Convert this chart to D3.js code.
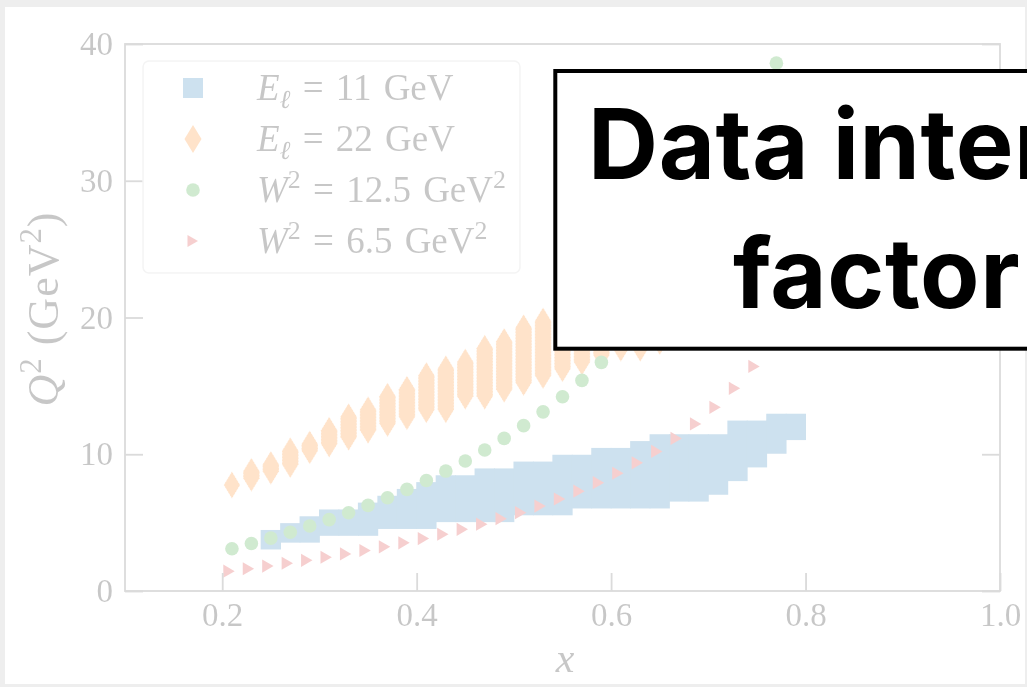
<!DOCTYPE html>
<html>
<head>
<meta charset="utf-8">
<script src="https://cdn.jsdelivr.net/npm/d3@7"></script>
<style>
  html, body { margin: 0; padding: 0; background: #eeeeee; overflow: hidden; }
  svg { display: block; }
  text { white-space: pre; }
</style>
</head>
<body>
<svg id="chart" width="1027" height="687"></svg>
<script>
// ---- Kinematic coverage data ----
// E_l = 11 GeV: Bjorken-x columns and the lowest / highest Q^2 bin centre in each column
const xE11 = [0.25, 0.27, 0.29, 0.31, 0.33, 0.35, 0.37, 0.39, 0.41, 0.43, 0.45, 0.47, 0.49, 0.51,
              0.53, 0.55, 0.57, 0.59, 0.61, 0.63, 0.65, 0.67, 0.69, 0.71, 0.73, 0.75, 0.77, 0.79];
const q2E11Low = [3.75, 4.25, 4.25, 4.75, 4.75, 4.75, 5.25, 5.25, 5.25, 5.75, 5.75, 5.75, 5.75, 6.25,
                  6.25, 6.25, 6.75, 6.75, 6.75, 6.75, 6.75, 7.25, 7.25, 7.75, 8.75, 9.75, 10.75, 11.75];
const q2E11High = [3.75, 4.25, 4.75, 5.25, 5.25, 5.75, 6.25, 6.75, 7.25, 7.75, 7.75, 8.25, 8.25, 8.75,
                   8.75, 9.25, 9.25, 9.75, 9.75, 10.25, 10.75, 10.75, 10.75, 10.75, 11.75, 11.75, 12.25, 12.25];

// E_l = 22 GeV
const xE22 = [0.21, 0.23, 0.25, 0.27, 0.29, 0.31, 0.33, 0.35, 0.37, 0.39, 0.41, 0.43, 0.45,
              0.47, 0.49, 0.51, 0.53, 0.55, 0.57, 0.59, 0.61, 0.63, 0.65, 0.67, 0.69];
const q2E22Low = [7.75, 8.25, 8.75, 9.25, 10.25, 10.75, 11.25, 11.75, 12.25, 12.75, 13.25, 13.25, 14.25,
                  14.25, 14.75, 15.25, 15.75, 16.25, 16.75, 17.25, 17.75, 17.75, 18.25, 18.75, 19.25];
const q2E22High = [7.75, 8.75, 9.25, 10.25, 10.75, 11.75, 12.75, 13.25, 14.25, 14.75, 15.75, 16.25, 16.75,
                   17.75, 18.25, 19.25, 19.75, 20.25, 20.75, 21.25, 21.75, 22.25, 22.75, 23.25, 23.75];

// W^2 = 12.5 GeV^2 line
const xW125 = [0.21, 0.23, 0.25, 0.27, 0.29, 0.31, 0.33, 0.35, 0.37, 0.39, 0.41, 0.43, 0.45, 0.47, 0.49,
               0.51, 0.53, 0.55, 0.57, 0.59, 0.61, 0.63, 0.65, 0.67, 0.69, 0.71, 0.73, 0.75, 0.77];
const q2W125 = [3.09, 3.47, 3.87, 4.30, 4.75, 5.22, 5.72, 6.26, 6.82, 7.43, 8.08, 8.77, 9.51, 10.31, 11.16,
                12.09, 13.10, 14.20, 15.40, 16.72, 18.18, 19.79, 21.58, 23.59, 25.86, 28.45, 31.42, 34.86, 38.6];

// W^2 = 6.5 GeV^2 line
const xW65 = [0.205, 0.225, 0.245, 0.265, 0.285, 0.305, 0.325, 0.345, 0.365, 0.385, 0.405, 0.425, 0.445, 0.465,
              0.485, 0.505, 0.525, 0.545, 0.565, 0.585, 0.605, 0.625, 0.645, 0.665, 0.685, 0.705, 0.725, 0.745];
const q2W65 = [1.45, 1.63, 1.82, 2.03, 2.24, 2.47, 2.71, 2.96, 3.23, 3.52, 3.83, 4.15, 4.51, 4.89,
               5.29, 5.73, 6.21, 6.73, 7.30, 7.92, 8.61, 9.37, 10.21, 11.16, 12.22, 13.43, 14.82, 16.42];

const xTicks = [0.2, 0.4, 0.6, 0.8, 1.0];
const yTicks = [0, 10, 20, 30, 40];
const seriesColors = ["#1f77b4", "#ff7f0e", "#2ca02c", "#d62728"];
const legendSymbols = ["square", "diamond", "circle", "triangle"];
// label pieces: [text, style]  (i = italic, sub = subscript, sup = superscript)
const legendLabels = [
  [["E", "i"], ["ℓ", "sub"], [" = 11 GeV", ""]],
  [["E", "i"], ["ℓ", "sub"], [" = 22 GeV", ""]],
  [["W", "i"], ["2", "sup"], [" = 12.5 GeV", ""], ["2", "sup"]],
  [["W", "i"], ["2", "sup"], [" = 6.5 GeV", ""], ["2", "sup"]]
];
const yTitle = [["Q", "i"], ["2", "sup"], [" (GeV", ""], ["2", "sup"], [")", ""]];
const bannerLines = ["Data interpolated", "factor of 2"];

// ---- Layout ----
const svg = d3.select("#chart");
const serif = "'Liberation Serif', 'Times New Roman', serif";

svg.append("rect").attr("x", 5).attr("y", 7).attr("width", 1020).attr("height", 677).attr("fill", "#ffffff");

const x = d3.scaleLinear().domain([0.1, 1.0]).range([125, 1000]);
const y = d3.scaleLinear().domain([0, 40]).range([591, 44]);

// the whole figure is drawn washed out
const fig = svg.append("g").attr("opacity", 0.22);

// Write a label made of styled pieces into a <text>, shifting the baseline for sub/superscripts
function richText(sel, pieces, fs) {
  let shift = 0; // current baseline offset
  pieces.forEach(([t, s]) => {
    const ts = sel.append("tspan").text(t);
    let target = 0;
    if (s === "i") ts.attr("font-style", "italic");
    if (s === "sub") { ts.attr("font-style", "italic").attr("font-size", fs * 0.7); target = fs * 0.22; }
    if (s === "sup") { ts.attr("font-size", fs * 0.7); target = -fs * 0.38; }
    if (target !== shift) ts.attr("dy", target - shift);
    shift = target;
  });
}

// ---- Data marks ----
const sq = 19.5;           // square marker side (px)
const dh = 13.5, dw = 8.2; // thin diamond half height / half width (px)

// E = 11 GeV: each x column is a stack of square markers from its low to its high bin
fig.append("g").selectAll("rect")
  .data(xE11.map((d, i) => ({ x: d, lo: q2E11Low[i], hi: q2E11High[i] })))
  .join("rect")
  .attr("x", d => x(d.x) - sq / 2 - 0.4)
  .attr("y", d => y(d.hi) - sq / 2)
  .attr("width", sq + 0.8)
  .attr("height", d => y(d.lo) - y(d.hi) + sq)
  .attr("fill", seriesColors[0]);

// E = 22 GeV: stacks of thin diamonds
fig.append("g").selectAll("path")
  .data(xE22.map((d, i) => ({ x: d, lo: q2E22Low[i], hi: q2E22High[i] })))
  .join("path")
  .attr("d", d => {
    const cx = x(d.x), yt = y(d.hi), yb = y(d.lo);
    return `M${cx},${yt - dh} L${cx + dw},${yt} L${cx + dw},${yb} L${cx},${yb + dh} L${cx - dw},${yb} L${cx - dw},${yt} Z`;
  })
  .attr("fill", seriesColors[1])
  .attr("stroke", "#ffffff").attr("stroke-width", 0.6).attr("stroke-dasharray", "1.5 1.5");

// W^2 = 12.5 GeV^2: circles
fig.append("g").selectAll("circle")
  .data(xW125.map((d, i) => ({ x: d, q: q2W125[i] })))
  .join("circle")
  .attr("cx", d => x(d.x)).attr("cy", d => y(d.q)).attr("r", 6.8)
  .attr("fill", seriesColors[2]);

// W^2 = 6.5 GeV^2: right-pointing triangles
const tri = r => `M${r},0 L${-r / 2},${-r * 0.866} L${-r / 2},${r * 0.866} Z`;
fig.append("g").selectAll("path")
  .data(xW65.map((d, i) => ({ x: d, q: q2W65[i] })))
  .join("path")
  .attr("d", tri(7.6))
  .attr("transform", d => `translate(${x(d.x)},${y(d.q)})`)
  .attr("fill", seriesColors[3]);

// ---- Axes ----
const axisStyle = g => {
  g.select(".domain").remove();
  g.selectAll(".tick line").attr("stroke", "#5a5a5a").attr("stroke-width", 1.8);
  g.selectAll(".tick text").attr("fill", "#000").attr("font-family", serif).attr("font-size", 33);
};

fig.append("g").attr("transform", "translate(0,591)")
  .call(d3.axisBottom(x).tickValues(xTicks).tickSize(-18).tickPadding(12).tickFormat(d3.format(".1f")))
  .call(axisStyle);
fig.append("g").attr("transform", "translate(125,0)")
  .call(d3.axisLeft(y).tickValues(yTicks).tickSize(-18).tickPadding(12).tickFormat(d3.format("d")))
  .call(axisStyle);
fig.append("g").attr("transform", "translate(1000,0)")
  .call(d3.axisRight(y).tickValues(yTicks).tickSize(-18).tickFormat(""))
  .call(axisStyle);

// frame
fig.append("rect")
  .attr("x", x.range()[0]).attr("y", y.range()[1])
  .attr("width", x.range()[1] - x.range()[0]).attr("height", y.range()[0] - y.range()[1])
  .attr("fill", "none").attr("stroke", "#5a5a5a").attr("stroke-width", 1.8);

// axis titles
fig.append("text")
  .attr("x", 565).attr("y", 672).attr("text-anchor", "middle")
  .attr("font-family", serif).attr("font-size", 42).attr("font-style", "italic")
  .text("x");

const yl = fig.append("text")
  .attr("transform", "translate(58,309) rotate(-90)")
  .attr("text-anchor", "middle")
  .attr("font-family", serif).attr("font-size", 44).attr("letter-spacing", 1);
richText(yl, yTitle, 44);

// ---- Legend ----
const lg = fig.append("g");
lg.append("rect")
  .attr("x", 143).attr("y", 61).attr("width", 377).attr("height", 212).attr("rx", 6)
  .attr("fill", "#ffffff").attr("fill-opacity", 0.8)
  .attr("stroke", "#cccccc").attr("stroke-width", 1.5);

const rowY = [88, 139, 190, 241];
legendLabels.forEach((pieces, i) => {
  const cy = rowY[i], cx = 193;
  const sym = legendSymbols[i];
  if (sym === "square") {
    lg.append("rect").attr("x", cx - 10).attr("y", cy - 10).attr("width", 20).attr("height", 20)
      .attr("fill", seriesColors[i]);
  } else if (sym === "diamond") {
    lg.append("path").attr("d", `M${cx},${cy - 14} L${cx + 8.5},${cy} L${cx},${cy + 14} L${cx - 8.5},${cy} Z`)
      .attr("fill", seriesColors[i]);
  } else if (sym === "circle") {
    lg.append("circle").attr("cx", cx).attr("cy", cy).attr("r", 6.8).attr("fill", seriesColors[i]);
  } else {
    lg.append("path").attr("d", tri(7)).attr("transform", `translate(${cx - 2},${cy})`)
      .attr("fill", seriesColors[i]);
  }
  const t = lg.append("text")
    .attr("x", 257).attr("y", cy + 12)
    .attr("font-family", serif).attr("font-size", 37).attr("fill", "#000")
    .attr("word-spacing", 3);
  richText(t, pieces, 37);
});

// ---- Banner ----
const banner = svg.append("g");
banner.append("rect")
  .attr("x", 555.3).attr("y", 71).attr("width", 520).attr("height", 277.7)
  .attr("fill", "#ffffff").attr("stroke", "#000000").attr("stroke-width", 4);
banner.selectAll("text")
  .data(bannerLines)
  .join("text")
  .attr("x", (d, i) => i === 0 ? 588 : 733)
  .attr("y", (d, i) => i === 0 ? 179 : 308)
  .attr("font-family", "Inter, 'Open Sans', sans-serif")
  .attr("font-weight", 700)
  .attr("font-size", 97)
  .attr("letter-spacing", 0.6)
  .attr("fill", "#000000")
  .text(d => d);
</script>
</body>
</html>
